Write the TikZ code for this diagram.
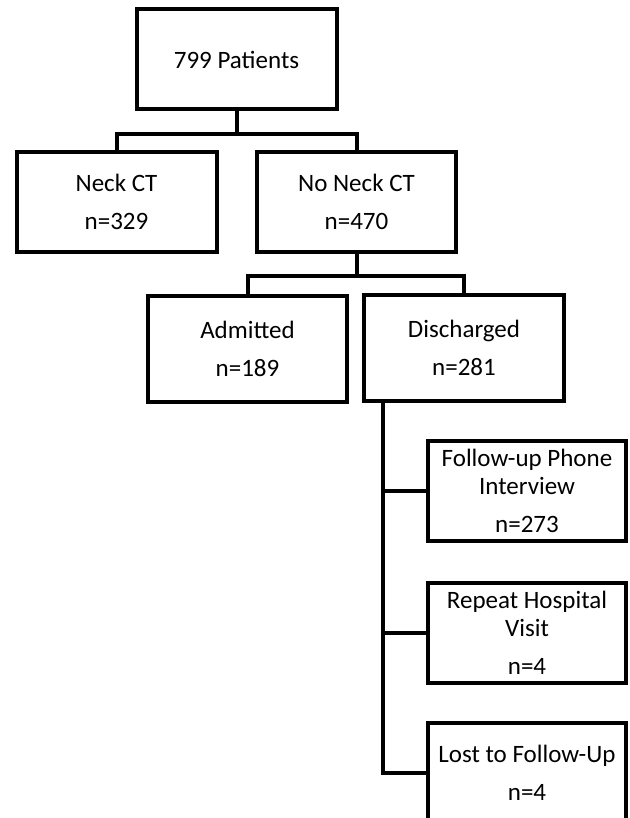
\documentclass[tikz,border=0pt]{standalone}
\usepackage{fontspec}
\setmainfont{Carlito}
\tikzset{box/.style={draw, line width=4pt, minimum width=200pt, minimum height=100pt,
  align=center, inner sep=0pt, font=\fontsize{25}{28}\selectfont}}
\tikzset{link/.style={line width=4pt}}

\begin{document}
\begin{tikzpicture}[x=1pt, y=-1pt]
  \clip (0, 0) rectangle (629, 818);
  \fill[white] (0, 0) rectangle (629, 818);

  \node[box] at (236.5, 59.5) (pat) {799 Patients};

  \node[box] at (116.5, 202) (neck) {Neck CT\\[10pt]n=329};
  \node[box, minimum width=199pt] at (356.5, 202) (noneck) {No Neck CT\\[10pt]n=470};

  \draw[link] (pat.south) --++ (0, 23) coordinate(split1);
  \draw[link] (neck.north) |- (split1) -| (noneck.north);

  \node[box, minimum width=199pt, minimum height=106pt] at (247.5, 348.5) (adm)
    {Admitted\\[10pt]n=189};
  \node[box, minimum height=106pt] at (464, 348) (dis) {Discharged\\[10pt]n=281};

  \draw[link] (noneck.south) --++ (0, 22) coordinate(split2);
  \draw[link] (adm.north) |- (split2) -| (dis.north);

  \node[box, minimum width=198pt] at (527, 491) (fu)
    {Follow-up Phone\\Interview\\[10pt]n=273};
  \node[box, minimum width=198pt] at (527, 633) (rep)
    {Repeat Hospital\\Visit\\[10pt]n=4};
  \node[box, minimum width=198pt] at (527, 773) (lost)
    {Lost to Follow-Up\\[10pt]n=4};

  % trunk down the left side of the discharged group
  \draw[link] ([xshift=21pt]dis.south west) coordinate(trunk) |- (lost.west);
  \draw[link] (trunk |- fu.west) -- (fu.west);
  \draw[link] (trunk |- rep.west) -- (rep.west);
\end{tikzpicture}
\end{document}
